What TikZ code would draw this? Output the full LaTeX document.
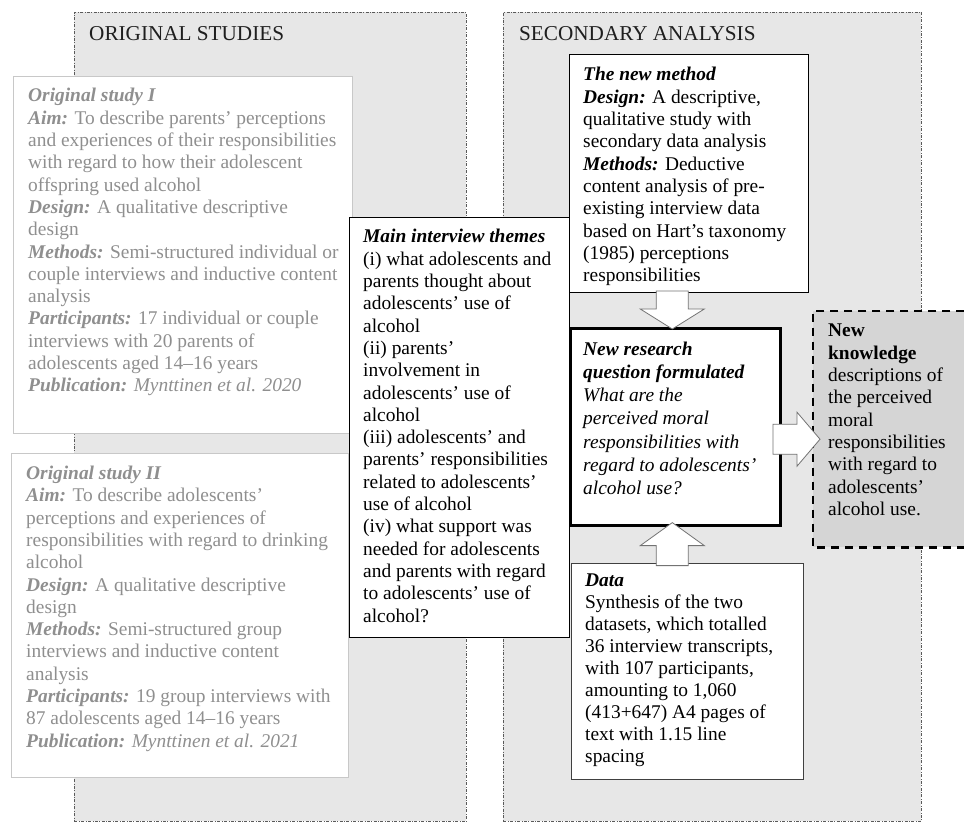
\documentclass[tikz,border=0pt]{standalone}
\usepackage{fontspec}
\setmainfont{Liberation Serif}
\usetikzlibrary{calc}
\definecolor{panelfill}{RGB}{231,231,231}
\definecolor{panelline}{RGB}{90,90,90}
\definecolor{studyline}{RGB}{200,200,200}
\definecolor{studytext}{RGB}{143,143,143}
\definecolor{knowfill}{RGB}{213,213,213}
\definecolor{arrowline}{RGB}{115,115,115}
\newcommand{\myst}{\rule{0pt}{17pt}}
\newcommand{\bfit}[1]{\textbf{\textit{#1}}}
\begin{document}
\begin{tikzpicture}[x=1pt,y=-1pt,
  panel/.style={rectangle, inner sep=0pt, anchor=north west, draw=panelline, fill=panelfill,
    line width=0.8pt, dash pattern=on 3pt off 1.5pt on 0.8pt off 1.5pt},
  boxbase/.style={rectangle, inner sep=0pt, anchor=north west, fill=white},
  studybox/.style={boxbase, draw=studyline, line width=1.2pt},
  txt/.style={anchor=north west, inner sep=0pt, align=left, font=\fontsize{19.4}{22.3}\selectfont},
  studytxt/.style={txt, text=studytext},
  paneltitle/.style={anchor=base west, inner sep=0pt, font=\fontsize{21.2}{25}\selectfont, text=black!88},
  blk/.style={draw=arrowline, fill=white, line width=0.8pt, line join=miter},
  knowborder/.style={draw=black, line width=2.6pt, dash pattern=on 8pt off 6pt}
]
\useasboundingbox (0,0) rectangle (964,823);
\fill[white] (0,0) rectangle (964,823);

% panels
\node[panel, minimum width=392pt, minimum height=809pt] (leftpanel) at (74,12) {};
\node[panel, minimum width=418pt, minimum height=809pt] (rightpanel) at (503,12) {};
\node[paneltitle] (lefttitle) at (89,40.5) {ORIGINAL STUDIES};
\node[paneltitle] (righttitle) at (519,40.5) {SECONDARY ANALYSIS};

% original study I
\node[studybox, minimum width=339pt, minimum height=357pt] (s1) at (13,76) {};
\node[studytxt] (s1t) at ([xshift=15pt,yshift=-8.7pt]s1.north west) {\myst\bfit{Original study I}\\
\bfit{Aim:} To describe parents’ perceptions\\
and experiences of their responsibilities\\
with regard to how their adolescent\\
offspring used alcohol\\
\bfit{Design:} A qualitative descriptive\\
design\\
\bfit{Methods:} Semi-structured individual or\\
couple interviews and inductive content\\
analysis\\
\bfit{Participants:} 17 individual or couple\\
interviews with 20 parents of\\
adolescents aged 14–16 years\\
\bfit{Publication:} \textit{Mynttinen et al. 2020}};

% original study II
\node[studybox, minimum width=337pt, minimum height=324pt] (s2) at (11,453) {};
\node[studytxt] (s2t) at ([xshift=15pt,yshift=-9.3pt]s2.north west) {\myst\bfit{Original study II}\\
\bfit{Aim:} To describe adolescents’\\
perceptions and experiences of\\
responsibilities with regard to drinking\\
alcohol\\
\bfit{Design:} A qualitative descriptive\\
design\\
\bfit{Methods:} Semi-structured group\\
interviews and inductive content\\
analysis\\
\bfit{Participants:} 19 group interviews with\\
87 adolescents aged 14–16 years\\
\bfit{Publication:} \textit{Mynttinen et al. 2021}};

% main interview themes
\node[boxbase, draw=black, line width=0.9pt, minimum width=220pt, minimum height=420pt] (mainbox) at (349,217) {};
\node[txt] (maint) at ([xshift=14pt,yshift=-8.7pt]mainbox.north west) {\myst\bfit{Main interview themes}\\
(i) what adolescents and\\
parents thought about\\
adolescents’ use of\\
alcohol\\
(ii) parents’\\
involvement in\\
adolescents’ use of\\
alcohol\\
(iii) adolescents’ and\\
parents’ responsibilities\\
related to adolescents’\\
use of alcohol\\
(iv) what support was\\
needed for adolescents\\
and parents with regard\\
to adolescents’ use of\\
alcohol?};

% new method
\node[boxbase, draw=black, line width=1pt, minimum width=239pt, minimum height=238pt] (method) at (569,54) {};
\node[txt] (methodt) at ([xshift=14pt,yshift=-9.7pt]method.north west) {\myst\bfit{The new method}\\
\bfit{Design:} A descriptive,\\
qualitative study with\\
secondary data analysis\\
\bfit{Methods:} Deductive\\
content analysis of pre-\\
existing interview data\\
based on Hart’s taxonomy\\
(1985) perceptions\\
responsibilities};

% new research question
\node[boxbase, draw=black, line width=2.6pt, minimum width=210pt, minimum height=197pt] (question) at (569,327) {};
\node[txt, font=\fontsize{19.4}{23.2}\selectfont] (questiont) at ([xshift=14pt,yshift=-11pt]question.north west) {\myst\bfit{New research}\\
\bfit{question formulated}\\
\textit{What are the}\\
\textit{perceived moral}\\
\textit{responsibilities with}\\
\textit{regard to adolescents’}\\
\textit{alcohol use?}};

% data
\node[boxbase, draw=black!75, line width=1.2pt, minimum width=232pt, minimum height=216pt] (data) at (571,563) {};
\node[txt, font=\fontsize{19.4}{21.9}\selectfont] (datat) at ([xshift=14pt,yshift=-6.7pt]data.north west) {\myst\bfit{Data}\\
Synthesis of the two\\
datasets, which totalled\\
36 interview transcripts,\\
with 107 participants,\\
amounting to 1,060\\
(413+647) A4 pages of\\
text with 1.15 line\\
spacing};

% new knowledge
\node[rectangle, inner sep=0pt, anchor=north west, fill=knowfill, minimum width=151pt, minimum height=236pt] (knowledge) at (813,311) {};
\draw[knowborder] (knowledge.north east) -- (knowledge.north west) -- (knowledge.south west) -- (knowledge.south east);
\node[txt] (knowledget) at ([xshift=15pt,yshift=-8.7pt]knowledge.north west) {\myst\textbf{New}\\
\textbf{knowledge}\\
descriptions of\\
the perceived\\
moral\\
responsibilities\\
with regard to\\
adolescents’\\
alcohol use.};

% block arrows
\coordinate (dtip) at ([xshift=-3pt,yshift=-2pt]question.north);
\draw[blk] (dtip) -- ++(-32,-20) -- ++(16,0) -- ++(0,-18) -- ++(32,0) -- ++(0,18) -- ++(16,0) -- cycle;
\coordinate (utip) at ([xshift=-3pt,yshift=4pt]question.south);
\draw[blk] (utip) -- ++(-32,23) -- ++(16,0) -- ++(0,20) -- ++(32,0) -- ++(0,-20) -- ++(16,0) -- cycle;
\coordinate (rtip) at ([xshift=7pt,yshift=-10pt]knowledge.west);
\draw[blk] (rtip) -- ++(-23,-27) -- ++(0,12) -- ++(-24,0) -- ++(0,30) -- ++(24,0) -- ++(0,12) -- cycle;
\end{tikzpicture}
\end{document}
